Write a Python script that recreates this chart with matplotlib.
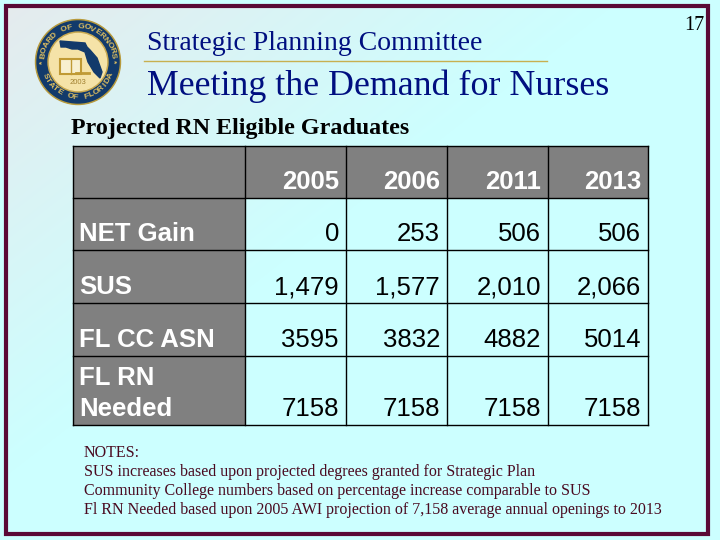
import numpy as np
import matplotlib
matplotlib.use("Agg")
import matplotlib.pyplot as plt
from matplotlib.patches import Circle, Polygon, Rectangle

years = ["2005", "2006", "2011", "2013"]
row_labels = ["NET Gain", "SUS", "FL CC ASN", "FL RN\nNeeded"]
net_gain = ["0", "253", "506", "506"]
sus = ["1,479", "1,577", "2,010", "2,066"]
fl_cc_asn = ["3595", "3832", "4882", "5014"]
fl_rn_needed = ["7158", "7158", "7158", "7158"]
notes = [
    "NOTES:",
    "SUS increases based upon projected degrees granted for Strategic Plan",
    "Community College numbers based on percentage increase comparable to SUS",
    "Fl RN Needed based upon 2005 AWI projection of 7,158 average annual openings to 2013",
]
rows = [net_gain, sus, fl_cc_asn, fl_rn_needed]

MAROON = "#5A0A36"
NAVY = "#000F80"
GREY = "#808080"
SERIF = "Liberation Serif"
SANS = "Liberation Sans"

fig = plt.figure(figsize=(7.2, 5.4), dpi=100)
ax = fig.add_axes([0, 0, 1, 1])
ax.set_xlim(0, 720)
ax.set_ylim(540, 0)
ax.axis("off")

# slide background: pale grey top left fading into cyan
yy, xx = np.mgrid[0:540, 0:720]
t = np.clip(xx / 620 + yy / 480, 0, 1)[..., None]
bg = (1 - t) * np.array([0.90, 0.92, 0.93]) + t * np.array([0.80, 1.0, 1.0])
ax.imshow(bg, extent=(0, 720, 540, 0), aspect="auto", zorder=0)
ax.set_xlim(0, 720)
ax.set_ylim(540, 0)
# everything outside the frame is plain cyan
for r in [(0, 0, 720, 4), (0, 536, 720, 4), (0, 0, 4, 540), (710, 0, 10, 540)]:
    ax.add_patch(Rectangle(r[:2], r[2], r[3], color="#CCFFFF", lw=0, zorder=1))
ax.add_patch(Rectangle((6, 6), 702, 528, fill=False, ec=MAROON, lw=3, zorder=2))

# logo
cx, cy = 78, 62
ax.add_patch(Circle((cx, cy), 42.5, color="#B79A3C", zorder=3))
ax.add_patch(Circle((cx, cy), 41, color="#123A6B", zorder=3))
ax.add_patch(Circle((cx, cy), 30, color="#C9A94F", zorder=3))
ax.add_patch(Circle((cx, cy), 28.5, color="#F5E3A8", zorder=3))
florida = [(60, 41), (85, 43), (87, 47), (90, 50), (97, 58), (102, 72), (100, 78), (94, 72),
           (88, 62), (85, 52), (78, 49), (72, 49), (66, 47), (61, 47)]
ax.add_patch(Polygon(florida, color="#123A6B", zorder=4))
ax.add_patch(Rectangle((60, 59), 21, 15, fc="#F8F0D0", ec="#C09A34", lw=1.5, zorder=4))
ax.plot([70.5, 70.5], [59, 74], color="#C09A34", lw=1, zorder=5)
ax.plot([76, 89], [73, 73], color="#C09A34", lw=2, zorder=5)
ax.text(78, 83, "2003", fontsize=5.5, color="#A08030", ha="center", va="center",
        family=SANS, zorder=5)


def ring_text(s, mid_deg, step, radius, flip=False):
    # one letter at a time around the seal
    for i, ch in enumerate(s):
        d = i - (len(s) - 1) / 2
        ang = np.radians(mid_deg + (step * d if flip else -step * d))
        x = cx + radius * np.cos(ang)
        y = cy - radius * np.sin(ang)
        rot = np.degrees(ang) + (90 if flip else -90)
        ax.text(x, y, ch, fontsize=6, fontweight="bold", color="#E0C060", rotation=rot,
                ha="center", va="center", family=SANS, zorder=5)


ring_text("BOARD OF GOVERNORS", 90, 9.4, 35.5)
ring_text("STATE OF FLORIDA", 270, 9.0, 35.5, flip=True)
ring_text("*", 180, 0, 35.5)
ring_text("*", 0, 0, 35.5)

# heading
ax.text(147, 50, "Strategic Planning Committee", fontsize=20, color=NAVY, family=SERIF,
        va="baseline", zorder=3)
ax.plot([144, 547], [60.5, 60.5], color="#C8B050", lw=1, zorder=3)
ax.text(147, 95, "Meeting the Demand for Nurses", fontsize=25.8, color=NAVY, family=SERIF,
        va="baseline", zorder=3)
ax.text(71, 134, "Projected RN Eligible Graduates", fontsize=17.3, fontweight="bold",
        color="black", family=SERIF, va="baseline", zorder=3)
ax.text(694, 30, "17", fontsize=14.5, color="black", family=SERIF, ha="center", va="baseline", zorder=3)

# table
col_x = [73, 245, 346, 447, 548, 648]
row_y = [146, 198, 250, 303, 356, 425]
ax.add_patch(Rectangle((col_x[0], row_y[0]), col_x[-1] - col_x[0], row_y[1] - row_y[0],
                       color=GREY, lw=0, zorder=3))
ax.add_patch(Rectangle((col_x[0], row_y[0]), col_x[1] - col_x[0], row_y[-1] - row_y[0],
                       color=GREY, lw=0, zorder=3))
for x in col_x:
    ax.plot([x, x], [row_y[0], row_y[-1]], color="black", lw=1, zorder=4)
for y in row_y:
    ax.plot([col_x[0], col_x[-1]], [y, y], color="black", lw=1, zorder=4)

FS = 18.5
for j, year in enumerate(years):
    ax.text(col_x[j + 2] - 7, row_y[1] - 9, year, fontsize=FS, fontweight="bold", color="white",
            family=SANS, ha="right", va="baseline", zorder=5)
for i, (label, row) in enumerate(zip(row_labels, rows)):
    bottom = row_y[i + 2]
    # last label wraps onto two lines, 31px apart
    for k, part in enumerate(reversed(label.split("\n"))):
        ax.text(col_x[0] + 6, bottom - 9 - 31 * k, part, fontsize=FS, fontweight="bold",
                color="white", family=SANS, va="baseline", zorder=5)
    for j, val in enumerate(row):
        ax.text(col_x[j + 2] - 7, bottom - 9, val, fontsize=FS, color="black",
                family=SANS, ha="right", va="baseline", zorder=5)

# notes
for y, line in zip([457, 476, 495, 514], notes):
    ax.text(84, y, line, fontsize=11.5, color="#4A0A20", family=SERIF, va="baseline", zorder=3)

fig.savefig("out.png", dpi=100)
